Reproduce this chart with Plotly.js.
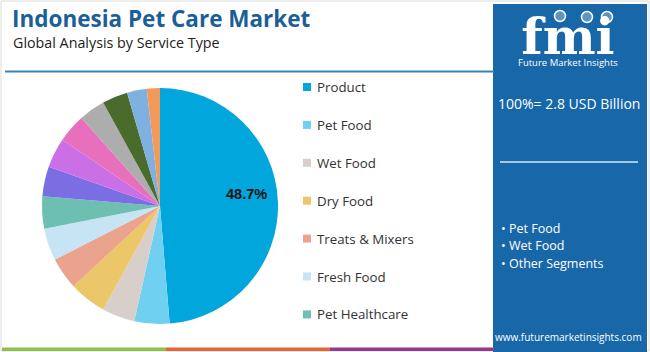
<!DOCTYPE html>
<html>
<head>
<meta charset="utf-8">
<script src="https://cdn.plot.ly/plotly-3.0.1.min.js"></script>
<style>
  html, body { margin: 0; padding: 0; background: #ffffff; }
  #chart { width: 650px; height: 352px; }
</style>
</head>
<body>
<div id="chart"></div>
<script>
// ---- Data ----
const labels = [
  "Product", "Pet Food", "Wet Food", "Dry Food", "Treats & Mixers",
  "Fresh Food", "Pet Healthcare", "Pet Grooming", "Pet Boarding",
  "Pet Training", "Veterinary Services", "Pet Insurance", "Pet Accessories", "Others"
];
const values = [48.7, 4.8, 4.5, 5.1, 4.4, 4.4, 4.4, 4.1, 4.1, 3.9, 3.6, 3.5, 2.7, 1.8];
const colors = [
  "#00a6dc", "#6fd0f2", "#d8cfcb", "#ebc76a", "#eaa38d",
  "#c7e4f4", "#6dbfb2", "#7b6ee3", "#cb6fe6", "#e86fbb",
  "#adadad", "#4a6b2c", "#7fb1e0", "#f19a5b"
];
const legendCount = 7;
const panelValue = "100%= 2.8 USD Billion";
const panelBullets = ["Pet Food", "Wet Food", "Other Segments"];
const titleText = "Indonesia Pet Care Market";
const subtitleText = "Global Analysis by Service Type";

// ---- Layout helpers ----
const W = 650, H = 352;
const px = x => x / W;
const py = y => 1 - y / H;
const panelColor = "#1867a8";

const pie = {
  type: "pie",
  labels: labels,
  values: values,
  sort: false,
  direction: "clockwise",
  rotation: 0,
  marker: { colors: colors, line: { width: 0 } },
  textinfo: "none",
  hoverinfo: "label+percent",
  showlegend: false,
  domain: { x: [px(42), px(278)], y: [py(324), py(88)] }
};

const shapes = [];
const annotations = [];

// Outer light border
shapes.push({ type: "rect", xref: "paper", yref: "paper", x0: px(1), x1: px(649), y0: py(351), y1: py(1),
  line: { color: "#dcdcdc", width: 1 }, fillcolor: "rgba(0,0,0,0)", layer: "below" });

// Line under subtitle
shapes.push({ type: "line", xref: "paper", yref: "paper", x0: px(5), x1: px(494), y0: py(71.5), y1: py(71.5),
  line: { color: "#3a83b8", width: 2 } });

// Bottom strip
const stripColors = ["#8dc04d", "#e5653b", "#8f3c8e"];
stripColors.forEach((c, i) => {
  shapes.push({ type: "rect", xref: "paper", yref: "paper", x0: px(2 + i * 164), x1: px(2 + (i + 1) * 164),
    y0: py(351), y1: py(347.5), line: { width: 0 }, fillcolor: c });
});

// Right panel
shapes.push({ type: "rect", xref: "paper", yref: "paper", x0: px(493), x1: px(647), y0: py(352), y1: py(4),
  line: { width: 0 }, fillcolor: panelColor, layer: "below" });
shapes.push({ type: "line", xref: "paper", yref: "paper", x0: px(500), x1: px(638), y0: py(162), y1: py(162),
  line: { color: "#d9e6f2", width: 1.5 } });

// Logo icons
[[560, 16], [587, 17], [607, 17]].forEach(([cx, cy]) => {
  shapes.push({ type: "circle", xref: "paper", yref: "paper", x0: px(cx - 5.5), x1: px(cx + 5.5), y0: py(cy + 5.5), y1: py(cy - 5.5),
    line: { color: "#ffffff", width: 1.5 }, fillcolor: "rgba(255,255,255,0.3)" });
});

// Title and subtitle
annotations.push({ text: "<b>" + titleText + "</b>", xref: "paper", yref: "paper", x: px(10), y: py(18),
  xanchor: "left", yanchor: "middle", showarrow: false,
  font: { family: "'Open Sans', sans-serif", size: 22.5, color: "#1b5f98" } });
annotations.push({ text: subtitleText, xref: "paper", yref: "paper", x: px(11), y: py(42),
  xanchor: "left", yanchor: "middle", showarrow: false,
  font: { family: "'Open Sans', sans-serif", size: 14.3, color: "#222222" } });

// Share label of the largest slice
annotations.push({ text: "<b>" + values[0].toFixed(1) + "%</b>", xref: "paper", yref: "paper", x: px(246), y: py(194),
  xanchor: "center", yanchor: "middle", showarrow: false,
  font: { family: "Arial, 'Liberation Sans', sans-serif", size: 14.5, color: "#111111" } });

// Custom legend (first items visible, as in reference)
for (let i = 0; i < legendCount; i++) {
  const yc = 87 + i * 37.9;
  shapes.push({ type: "rect", xref: "paper", yref: "paper", x0: px(303), x1: px(311), y0: py(yc + 4), y1: py(yc - 4),
    line: { width: 0 }, fillcolor: colors[i] });
  annotations.push({ text: labels[i], xref: "paper", yref: "paper", x: px(315), y: py(yc),
    xanchor: "left", yanchor: "middle", showarrow: false,
    font: { family: "'Open Sans', sans-serif", size: 13.3, color: "#333333" } });
}

// Logo (one text block: big letters + caption)
annotations.push({
  text: "<span style='font-size:50px;font-family:DejaVu Serif,serif;font-weight:bold'>fmi</span><br>Future Market Insights",
  xref: "paper", yref: "paper", x: px(568), y: py(5),
  xanchor: "center", yanchor: "top", align: "center", showarrow: false,
  font: { family: "'Open Sans', sans-serif", size: 9.5, color: "#ffffff" } });

// Panel texts
annotations.push({ text: panelValue, xref: "paper", yref: "paper", x: px(569), y: py(103),
  xanchor: "center", yanchor: "middle", showarrow: false,
  font: { family: "'Open Sans', sans-serif", size: 14, color: "#ffffff" } });
panelBullets.forEach((b, i) => {
  annotations.push({ text: "• " + b, xref: "paper", yref: "paper", x: px(499), y: py(228 + i * 17.5),
    xanchor: "left", yanchor: "middle", showarrow: false,
    font: { family: "'Open Sans', sans-serif", size: 12.5, color: "#ffffff" } });
});
annotations.push({ text: "www.futuremarketinsights.com", xref: "paper", yref: "paper", x: px(568), y: py(337),
  xanchor: "center", yanchor: "middle", showarrow: false,
  font: { family: "'Open Sans', sans-serif", size: 10, color: "#ffffff" } });

const layout = {
  width: W, height: H,
  margin: { l: 0, r: 0, t: 0, b: 0 },
  paper_bgcolor: "#ffffff",
  plot_bgcolor: "#ffffff",
  showlegend: false,
  shapes: shapes,
  annotations: annotations
};

Plotly.newPlot("chart", [pie], layout, { displayModeBar: false, staticPlot: true });
</script>
</body>
</html>
